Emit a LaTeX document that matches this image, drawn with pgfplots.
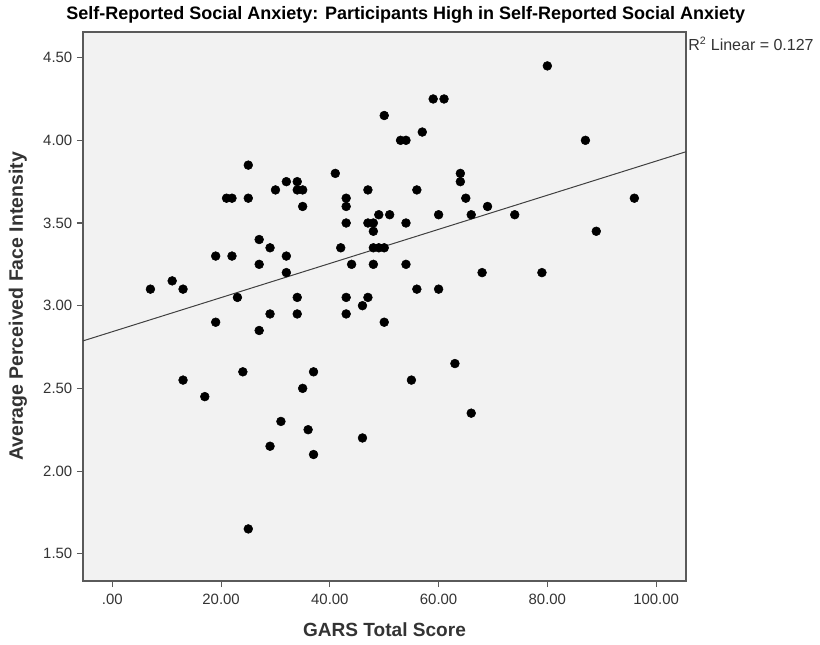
\documentclass[border=0pt]{standalone}
\usepackage{fontspec}
\setmainfont{Liberation Sans}
\usepackage{pgfplots}
\pgfplotsset{compat=1.18}
\definecolor{bg}{HTML}{F2F2F2}
\definecolor{axc}{HTML}{5A5A5A}
\definecolor{txt}{HTML}{333333}
\begin{document}
\begin{tikzpicture}
\useasboundingbox (-62.25pt,-47.25pt) rectangle (552.75pt,435.75pt);
\begin{axis}[
  scale only axis,
  width=452.25pt, height=411.75pt,
  xmin=-5.4, xmax=105.5,
  ymin=1.335, ymax=4.655,
  axis background/.style={fill=bg},
  axis line style={axc, line width=1pt},
  tick style={axc, line width=0.8pt},
  tick align=outside,
  major tick length=4.5pt,
  xtick={0,20,40,60,80,100},
  xticklabels={.00,20.00,40.00,60.00,80.00,100.00},
  ytick={1.5,2,2.5,3,3.5,4,4.5},
  yticklabels={1.50,2.00,2.50,3.00,3.50,4.00,4.50},
  xtick pos=bottom, ytick pos=left,
  tick label style={font=\fontsize{11.2}{13}\selectfont, text=txt},
  xticklabel style={yshift=-2pt},
  every axis x label/.style={at={(axis description cs:0.5,-0.0893)}, anchor=center, font=\bfseries\fontsize{14.3}{17}\selectfont, text=txt},
  every axis y label/.style={at={(axis description cs:-0.1078,0.5)}, rotate=90, anchor=center, font=\bfseries\fontsize{14.6}{17}\selectfont, text=txt},
  xlabel={GARS Total Score},
  ylabel={Average Perceived Face Intensity},
  clip=false,
]
\addplot[only marks, mark=*, mark size=3.3pt, mark options={fill=black, draw=black}] coordinates {
(25,3.85) (21,3.65) (22,3.65) (25,3.65) (30,3.70) (32,3.75) (34,3.75) (34,3.70) (35,3.70) (35,3.60)
(41,3.80) (43,3.65) (43,3.60) (47,3.70) (50,4.15) (53,4.00) (54,4.00) (57,4.05) (59,4.25) (61,4.25)
(56,3.70) (64,3.80) (64,3.75) (65,3.65) (69,3.60) (66,3.55) (60,3.55) (43,3.50) (47,3.50) (48,3.50)
(54,3.50) (49,3.55) (51,3.55) (80,4.45) (87,4.00) (96,3.65) (74,3.55) (7,3.10) (11,3.15) (13,3.10)
(19,3.30) (22,3.30) (27,3.40) (29,3.35) (32,3.30) (27,3.25) (32,3.20) (23,3.05) (19,2.90) (29,2.95)
(27,2.85) (13,2.55) (17,2.45) (24,2.60) (31,2.30) (48,3.45) (42,3.35) (48,3.35) (49,3.35) (50,3.35)
(44,3.25) (48,3.25) (54,3.25) (68,3.20) (34,3.05) (34,2.95) (43,3.05) (43,2.95) (47,3.05) (46,3.00)
(50,2.90) (56,3.10) (60,3.10) (37,2.60) (35,2.50) (63,2.65) (55,2.55) (66,2.35) (89,3.45) (79,3.20)
(29,2.15) (25,1.65) (36,2.25) (37,2.10) (46,2.20)
};
\addplot[color=black!75, line width=0.75pt] coordinates {(-5.4,2.787) (105.5,3.931)};
\node[anchor=center, font=\bfseries\fontsize{13.5}{15}\selectfont] at ([xshift=16pt,yshift=13pt]rel axis cs:0.5,1) {Self-Reported Social Anxiety: Participants High in Self-Reported Social Anxiety};
\node[anchor=west, inner sep=1pt, font=\fontsize{12}{14}\selectfont, text=txt] at ([xshift=0.5pt]rel axis cs:1,0.978) {R\textsuperscript{2} Linear = 0.127};
\end{axis}
\end{tikzpicture}
\end{document}
